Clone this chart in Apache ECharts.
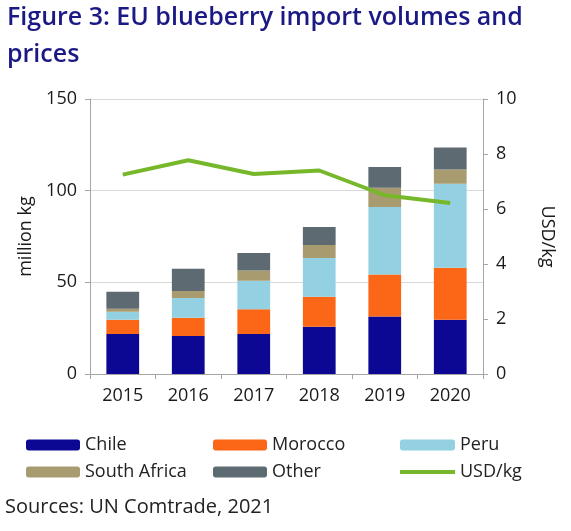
<!DOCTYPE html>
<html>
<head>
<meta charset="utf-8">
<script src="https://cdn.jsdelivr.net/npm/echarts@6/dist/echarts.min.js"></script>
<style>
html,body{margin:0;padding:0;background:#fff;}
#c{width:571px;height:531px;}
</style>
</head>
<body>
<div id="c"></div>
<script>
const years = ['2015','2016','2017','2018','2019','2020'];
const chile = [21.8, 20.7, 21.8, 25.8, 31.4, 29.6];
const morocco = [7.8, 10.0, 13.5, 16.4, 22.9, 28.4];
const peru = [4.4, 10.8, 15.6, 21.1, 36.8, 45.8];
const southAfrica = [1.6, 3.8, 5.5, 7.1, 10.5, 7.7];
const other = [9.3, 12.1, 9.6, 9.8, 11.3, 12.0];
const usdPerKg = [7.25, 7.77, 7.27, 7.40, 6.5, 6.22];

const font = '"Open Sans", "Noto Sans", sans-serif';
const axisColor = '#a6a6a6';
const chart = echarts.init(document.getElementById('c'), null, {renderer: 'canvas'});

function bar(name, data, color) {
  return {name: name, type: 'bar', stack: 'v', data: data, barWidth: '50%',
    itemStyle: {color: color}, yAxisIndex: 0};
}
const legendText = {fontSize: 18, color: '#222', fontFamily: font};

chart.setOption({
  animation: false,
  textStyle: {fontFamily: font},
  graphic: [
    {type: 'text', left: 7, top: -1, style: {text: 'Figure 3: EU blueberry import volumes and\nprices', fontFamily: font, fontSize: 25, fontWeight: 600, fill: '#1b1a85', lineHeight: 37}},
    {type: 'text', left: 5, top: 497, style: {text: 'Sources: UN Comtrade, 2021', fontFamily: font, fontSize: 20, fill: '#222'}}
  ],
  grid: {left: 90, right: 88, top: 99, bottom: 157, containLabel: false},
  legend: [
    {orient: 'vertical', left: 21, top: 431, itemWidth: 54, itemHeight: 11, itemGap: 9,
      textStyle: legendText, selectedMode: false, data: ['Chile', 'South Africa']},
    {orient: 'vertical', left: 208, top: 431, itemWidth: 54, itemHeight: 11, itemGap: 9,
      textStyle: legendText, selectedMode: false, data: ['Morocco', 'Other']},
    {orient: 'vertical', left: 395, top: 431, itemWidth: 55, itemHeight: 11, itemGap: 9,
      textStyle: legendText, selectedMode: false,
      data: ['Peru', {name: 'USD/kg', icon: 'path://M0,0 L56,0 L56,4 L0,4 Z'}]}
  ],
  xAxis: {
    type: 'category', data: years,
    axisLine: {lineStyle: {color: axisColor, width: 1}},
    axisTick: {show: true, length: 5, lineStyle: {color: axisColor}},
    axisLabel: {color: '#1a1a1a', fontSize: 18, margin: 13, fontFamily: font}
  },
  yAxis: [
    {type: 'value', min: 0, max: 150, interval: 50, name: 'million kg', nameLocation: 'middle', nameGap: 54,
      nameTextStyle: {fontSize: 18, color: '#1a1a1a', fontFamily: font},
      axisLine: {show: true, lineStyle: {color: axisColor}},
      axisTick: {show: true, length: 5, lineStyle: {color: axisColor}},
      axisLabel: {color: '#1a1a1a', fontSize: 18, margin: 13, fontFamily: font},
      splitLine: {show: true, lineStyle: {color: '#d9d9d9', width: 1}}},
    {type: 'value', min: 0, max: 10, interval: 2, position: 'right', name: 'USD/kg', nameLocation: 'middle', nameGap: 55, nameRotate: -90,
      nameTextStyle: {fontSize: 18, color: '#1a1a1a', fontFamily: font},
      axisLine: {show: true, lineStyle: {color: axisColor}},
      axisTick: {show: true, length: 5, lineStyle: {color: axisColor}},
      axisLabel: {color: '#1a1a1a', fontSize: 18, margin: 13, fontFamily: font},
      splitLine: {show: false}}
  ],
  series: [
    bar('Chile', chile, '#0c0893'),
    bar('Morocco', morocco, '#fc6717'),
    bar('Peru', peru, '#92d0e2'),
    bar('South Africa', southAfrica, '#a89b70'),
    bar('Other', other, '#5e6a71'),
    {name: 'USD/kg', type: 'line', yAxisIndex: 1, data: usdPerKg, symbol: 'none',
      lineStyle: {color: '#76b82a', width: 4}, itemStyle: {color: '#76b82a'}}
  ]
});
</script>
</body>
</html>
